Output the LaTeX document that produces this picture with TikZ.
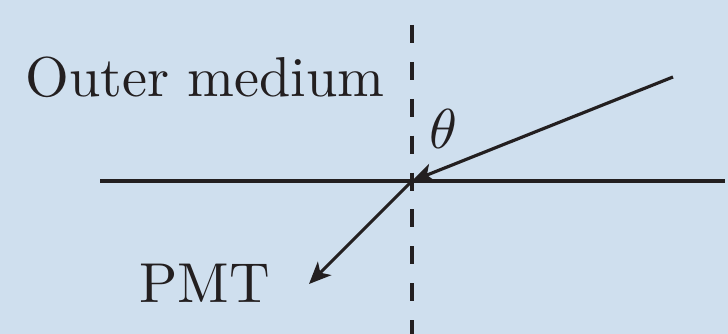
\documentclass[tikz,border=0pt]{standalone}
\usepackage{tikz}
\usepackage{graphicx}
\usetikzlibrary{positioning}
\usetikzlibrary{arrows.meta}
\definecolor{bgblue}{RGB}{207,223,238}
\definecolor{inkblack}{RGB}{35,31,32}
\newcommand{\bigtxt}[1]{\scalebox{3.2}{#1}}
\begin{document}
\begin{tikzpicture}[x=0.02cm, y=-0.02cm,
Rayline/.style={line width=1.8pt, draw=inkblack, -{Stealth[length=0.44cm, width=0.38cm, inset=0.12cm]}},
Lbl/.style={text=inkblack, font=\normalsize, inner sep=0pt}
]
%Background
\fill[bgblue] (0,0) rectangle (728,334);
\useasboundingbox (0,0) rectangle (728,334);
%Nodes
\coordinate (Hit) at (412,181);
\coordinate (Src) at (673,77);
\coordinate (Dst) at (309,284);
\coordinate (Ntop) at (412,25);
\coordinate (Nbot) at (412,345);
\coordinate (Bl) at (100,181);
\coordinate (Br) at (725,181);
\node[Lbl, anchor=base west] (Outer) at (25,97) {\bigtxt{Outer medium}};
\node[Lbl, anchor=base] (Theta) at (443,149) {\bigtxt{$\theta$}};
\node[Lbl, anchor=base west] (PMT) at (139,303) {\bigtxt{PMT}};
%Lines
\draw[line width=1.8pt, inkblack, dash pattern=on 10.2pt off 10.8pt] (Ntop) -- (Nbot);
\draw[line width=1.8pt, inkblack] (Bl) -- (Br);
\draw[Rayline] (Src) -- (Hit);
\draw[Rayline] (Hit) -- (Dst);
\end{tikzpicture}
\end{document}
